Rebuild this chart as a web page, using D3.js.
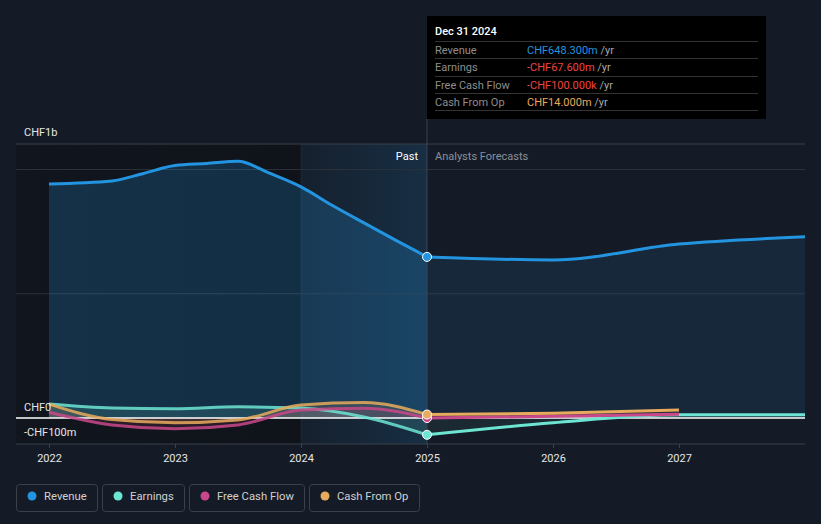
<!DOCTYPE html>
<html><head><meta charset="utf-8">
<script src="https://cdn.jsdelivr.net/npm/d3@7"></script>
<style>
html,body{margin:0;padding:0;background:#151b26;}
svg{display:block;font-family:Roboto,"Open Sans",sans-serif;}
</style></head>
<body><svg id="c" width="821" height="524"></svg>
<script>
// ---- data (values in CHF billions, x in fractional years) ----
const revenueYears  = [2022, 2022.5, 2022.75, 2023, 2023.25, 2023.5, 2023.75, 2024, 2024.25, 2024.5, 2024.75, 2025];
const revenueValues = [0.942, 0.954, 0.984, 1.016, 1.024, 1.033, 0.985, 0.93, 0.855, 0.785, 0.716, 0.6483];
const revenueFcYears  = [2025, 2026, 2027, 2028];
const revenueFcValues = [0.6483, 0.636, 0.700, 0.729];

const earningsYears  = [2022, 2022.5, 2023, 2023.5, 2024, 2024.5, 2025];
const earningsValues = [0.056, 0.040, 0.037, 0.045, 0.040, 0.004, -0.0676];
const earningsFcYears  = [2025, 2026, 2027, 2028];
const earningsFcValues = [-0.0676, -0.019, 0.013, 0.013];

const fcfYears  = [2022, 2022.5, 2023, 2023.5, 2024, 2024.5, 2025];
const fcfValues = [0.023, -0.028, -0.043, -0.028, 0.032, 0.039, -0.0001];
const fcfFcYears  = [2025, 2026, 2027];
const fcfFcValues = [-0.0001, 0.007, 0.015];

const cfoYears  = [2022, 2022.5, 2023, 2023.5, 2024, 2024.5, 2025];
const cfoValues = [0.056, -0.006, -0.019, -0.008, 0.052, 0.062, 0.014];
const cfoFcYears  = [2025, 2026, 2027];
const cfoFcValues = [0.014, 0.019, 0.032];

const xTicks = [2022, 2023, 2024, 2025, 2026, 2027];
const yLabels = [{v:0, t:"CHF0"}, {v:-0.1, t:"-CHF100m"}];
const topLabel = "CHF1b";
const gridValues = [1.0, 0.5];

const seriesNames  = ["Revenue", "Earnings", "Free Cash Flow", "Cash From Op"];
const seriesColors = ["#2394df", "#6ce5d2", "#c8488a", "#e8aa5c"];

const tipTitle = "Dec 31 2024";
const tipValues = ["CHF648.300m", "-CHF67.600m", "-CHF100.000k", "CHF14.000m"];
const tipColors = ["#2394df", "#f0443e", "#f0443e", "#e8aa5c"];

// ---- chart ----
const svg = d3.select("#c");
const L = 16, R = 805, T = 144, B = 444;
const x = d3.scaleLinear().domain([2022, 2028]).range([49, 805]);
const y = d3.scaleLinear().domain([-0.1046, 1.1026]).range([B, T]);
const xNow = x(2025), xHi = x(2024);

const defs = svg.append("defs");
const g1 = defs.append("linearGradient").attr("id","hi").attr("x1","0").attr("x2","1");
g1.append("stop").attr("offset","0").attr("stop-color","#2394df").attr("stop-opacity",0.04);
g1.append("stop").attr("offset","1").attr("stop-color","#2394df").attr("stop-opacity",0.16);
const g2 = defs.append("linearGradient").attr("id","dk").attr("x1","0").attr("x2","1");
g2.append("stop").attr("offset","0").attr("stop-color","#0b0d11").attr("stop-opacity",0.4);
g2.append("stop").attr("offset","1").attr("stop-color","#0b0d11").attr("stop-opacity",0.6);

// background regions
svg.append("rect").attr("x",L).attr("y",T).attr("width",xHi-L).attr("height",B-T).attr("fill","url(#dk)");
svg.append("rect").attr("x",xHi).attr("y",T).attr("width",xNow-xHi).attr("height",B-T).attr("fill","url(#hi)");
svg.append("line").attr("x1",xHi).attr("x2",xHi).attr("y1",T).attr("y2",B).attr("stroke","#2394df").attr("stroke-opacity",0.12);

// gridlines
svg.append("line").attr("x1",L).attr("x2",R).attr("y1",T).attr("y2",T).attr("stroke","#3b4049");
gridValues.forEach(v=>svg.append("line").attr("x1",L).attr("x2",R).attr("y1",y(v)).attr("y2",y(v)).attr("stroke","#2c323c"));
svg.append("line").attr("x1",L).attr("x2",R).attr("y1",B).attr("y2",B).attr("stroke","#3b4049");

const curve = d3.curveMonotoneX;
const zip = (xs, vs) => xs.map((d,i)=>[d, vs[i]]);

// revenue areas
const revPast = zip(revenueYears, revenueValues), revFc = zip(revenueFcYears, revenueFcValues);
const area = d3.area().x(d=>x(d[0])).y0(y(0)).y1(d=>y(d[1])).curve(curve);
svg.append("path").datum(revPast).attr("d",area).attr("fill","#2394df").attr("fill-opacity",0.22);
svg.append("path").datum(revFc).attr("d",area).attr("fill","#2394df").attr("fill-opacity",0.11);

// small series areas
const small = [
  [zip(earningsYears,earningsValues), zip(earningsFcYears,earningsFcValues), seriesColors[1]],
  [zip(fcfYears,fcfValues), zip(fcfFcYears,fcfFcValues), seriesColors[2]],
  [zip(cfoYears,cfoValues), zip(cfoFcYears,cfoFcValues), seriesColors[3]],
];
small.forEach(s=>{
  svg.append("path").datum(s[0]).attr("d",area).attr("fill",s[2]).attr("fill-opacity",0.14);
  svg.append("path").datum(s[1]).attr("d",area).attr("fill",s[2]).attr("fill-opacity",0.07);
});

// zero line
svg.append("line").attr("x1",L).attr("x2",R).attr("y1",y(0)).attr("y2",y(0)).attr("stroke","#ffffff").attr("stroke-width",1.5);

// lines
const line = d3.line().x(d=>x(d[0])).y(d=>y(d[1])).curve(curve);
svg.append("path").datum(revPast).attr("d",line).attr("fill","none").attr("stroke",seriesColors[0]).attr("stroke-width",3);
svg.append("path").datum(revFc).attr("d",line).attr("fill","none").attr("stroke",seriesColors[0]).attr("stroke-width",3);
small.forEach(s=>{
  svg.append("path").datum(s[0]).attr("d",line).attr("fill","none").attr("stroke",s[2]).attr("stroke-width",3).attr("stroke-opacity",0.85);
  svg.append("path").datum(s[1]).attr("d",line).attr("fill","none").attr("stroke",s[2]).attr("stroke-width",3);
});

// divider
svg.append("line").attr("x1",xNow).attr("x2",xNow).attr("y1",119).attr("y2",B).attr("stroke","#3b4452").attr("stroke-width",1);

// dots
const dotVals = [revenueValues[revenueValues.length-1], earningsValues[earningsValues.length-1], fcfValues[fcfValues.length-1], cfoValues[cfoValues.length-1]];
[2,3,1,0].forEach(i=>{
  svg.append("circle").attr("cx",xNow).attr("cy",y(dotVals[i])).attr("r",4.5)
    .attr("fill",seriesColors[i]).attr("stroke","#ffffff").attr("stroke-width",1);
});

// Past / forecast labels
svg.append("text").attr("x",xNow-9).attr("y",160).attr("text-anchor","end").attr("fill","#ffffff").attr("font-size",11).text("Past");
svg.append("text").attr("x",xNow+8).attr("y",160).attr("fill","#8a9099").attr("font-size",11).text("Analysts Forecasts");

// y labels
svg.append("text").attr("x",24).attr("y",136).attr("fill","#e6e6e6").attr("font-size",11).text(topLabel);
yLabels.forEach(d=>{
  svg.append("text").attr("x",24).attr("y",y(d.v)-7).attr("fill","#e6e6e6").attr("font-size",11).text(d.t);
});

// x axis
const xAxis = d3.axisBottom(x).tickValues(xTicks).tickFormat(d3.format("d")).tickSize(4).tickPadding(6);
const ax = svg.append("g").attr("transform",`translate(0,${B})`).call(xAxis);
ax.select(".domain").remove();
ax.selectAll("line").attr("stroke","#3b4049");
ax.selectAll("text").attr("fill","#e6e6e6").attr("font-size",11).attr("font-family","Roboto,sans-serif");

// tooltip
const tip = svg.append("g");
tip.append("rect").attr("x",xNow).attr("y",16).attr("width",766-xNow).attr("height",103).attr("fill","#000000");
tip.append("text").attr("x",435).attr("y",35).attr("fill","#ffffff").attr("font-size",11).attr("font-weight",500).text(tipTitle);
const rowY = [41, 58, 76, 93, 110];
rowY.forEach(v=>tip.append("line").attr("x1",435).attr("x2",758).attr("y1",v+0.5).attr("y2",v+0.5).attr("stroke","#333"));
seriesNames.forEach((n,i)=>{
  const yy = rowY[i]+12.5;
  tip.append("text").attr("x",435).attr("y",yy).attr("fill","#8e8e8e").attr("font-size",11).text(n);
  const t = tip.append("text").attr("x",527).attr("y",yy).attr("font-size",11);
  t.append("tspan").attr("fill",tipColors[i]).text(tipValues[i]);
  t.append("tspan").attr("fill","#a8a8a8").text(" /yr");
});

// legend
const legW = [81, 82, 115, 110];
let lx = 16;
seriesNames.forEach((n,i)=>{
  const gg = svg.append("g").attr("transform",`translate(${lx},484)`);
  gg.append("rect").attr("x",0.5).attr("y",0.5).attr("width",legW[i]).attr("height",27).attr("rx",3)
    .attr("fill","none").attr("stroke","#3b4049");
  gg.append("circle").attr("cx",16).attr("cy",12).attr("r",4.5).attr("fill",seriesColors[i]);
  gg.append("text").attr("x",28).attr("y",16).attr("fill","#d0d0d0").attr("font-size",11.3).text(n);
  lx += legW[i] + 5;
});
</script></body></html>
